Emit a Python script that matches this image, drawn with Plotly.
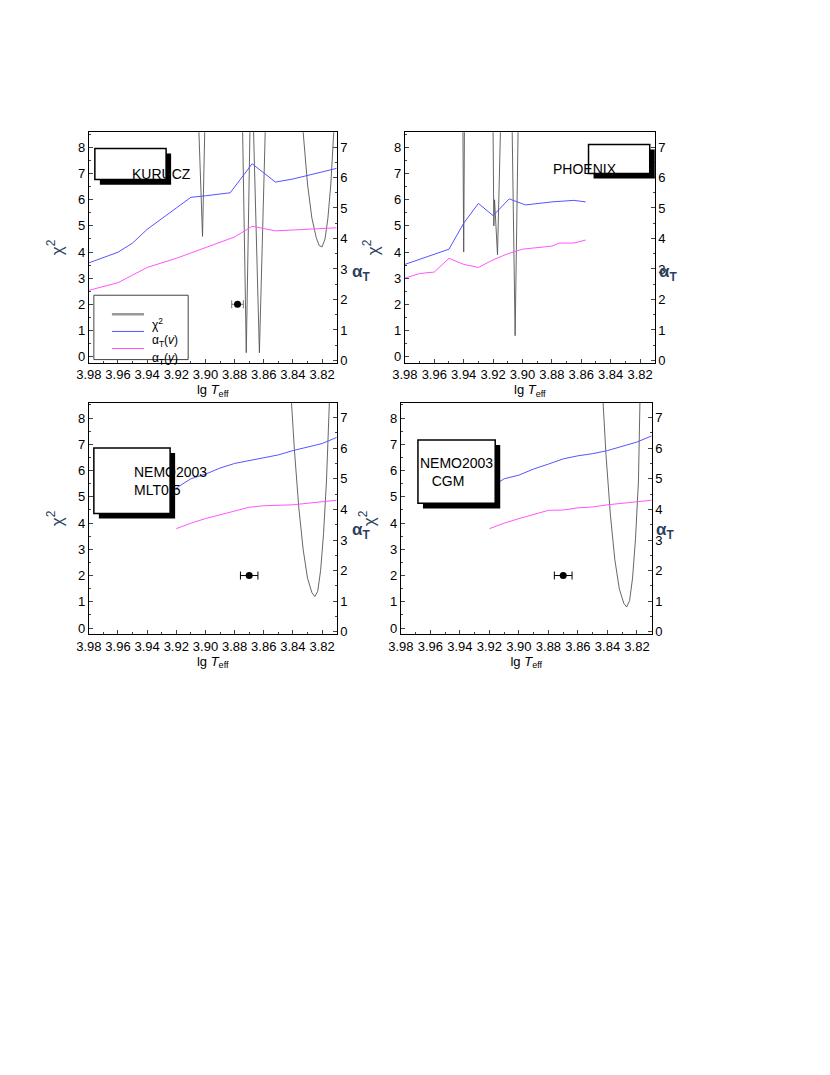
import plotly.graph_objects as go

W, H = 830, 1075

# panel labels
labels = ["KURUCZ", "PHOENIX", "NEMO2003<br>MLT0.5", "NEMO2003<br>   CGM"]

# alpha_T(v) (blue) per panel, read on right axis
blue_x = [
    [3.98, 3.96, 3.95, 3.94, 3.92, 3.91, 3.90, 3.883, 3.868, 3.852, 3.84, 3.81],
    [3.98, 3.96, 3.95, 3.94, 3.93, 3.92, 3.909, 3.898, 3.88, 3.865, 3.857],
    [3.92, 3.91, 3.90, 3.89, 3.88, 3.87, 3.86, 3.85, 3.84, 3.82, 3.81],
    [3.92, 3.91, 3.90, 3.89, 3.88, 3.87, 3.86, 3.85, 3.84, 3.82, 3.81],
]
blue_y = [
    [3.2, 3.55, 3.85, 4.3, 5.0, 5.35, 5.4, 5.5, 6.45, 5.85, 5.95, 6.3],
    [3.15, 3.5, 3.65, 4.5, 5.15, 4.75, 5.3, 5.1, 5.2, 5.25, 5.2],
    [4.7, 5.0, 5.15, 5.35, 5.5, 5.6, 5.68, 5.78, 5.92, 6.15, 6.35],
    [4.7, 5.0, 5.12, 5.32, 5.48, 5.65, 5.75, 5.82, 5.92, 6.2, 6.4],
]
# alpha_T(y) (magenta)
pink_x = [
    [3.98, 3.96, 3.95, 3.94, 3.92, 3.90, 3.88, 3.868, 3.852, 3.81],
    [3.98, 3.97, 3.96, 3.95, 3.94, 3.93, 3.92, 3.91, 3.90, 3.88, 3.875, 3.865, 3.857],
    [3.92, 3.91, 3.90, 3.89, 3.88, 3.87, 3.86, 3.84, 3.81],
    [3.92, 3.91, 3.90, 3.89, 3.88, 3.87, 3.86, 3.85, 3.84, 3.82, 3.81],
]
pink_y = [
    [2.3, 2.55, 2.8, 3.05, 3.35, 3.7, 4.05, 4.4, 4.25, 4.35],
    [2.7, 2.85, 2.9, 3.35, 3.15, 3.05, 3.3, 3.5, 3.65, 3.75, 3.85, 3.85, 3.95],
    [3.37, 3.55, 3.7, 3.82, 3.95, 4.07, 4.12, 4.15, 4.3],
    [3.37, 3.55, 3.7, 3.83, 3.97, 3.98, 4.05, 4.08, 4.15, 4.25, 4.3],
]
# chi^2 curves (left axis), None separates branches
chi_x = [
    [3.9045, 3.902, 3.9005, None, 3.8745, 3.872, 3.8695, None, 3.867, 3.863, 3.859, None,
     3.833, 3.830, 3.827, 3.824, 3.822, 3.820, 3.818, 3.816, 3.814, 3.812],
    [3.9405, 3.940, 3.9395, None, 3.920, 3.9195, 3.919, 3.917, 3.915, None, 3.907, 3.905, 3.903],
    [3.841, 3.839, 3.836, 3.833, 3.830, 3.827, 3.825, 3.823, 3.821, 3.819, 3.817, 3.815],
    [3.843, 3.841, 3.838, 3.835, 3.832, 3.829, 3.827, 3.825, 3.823, 3.821, 3.819, 3.818],
]
chi_y = [
    [8.6, 4.6, 8.6, None, 8.6, 0.15, 8.6, None, 8.6, 0.15, 8.6, None,
     8.6, 6.6, 5.3, 4.55, 4.25, 4.2, 4.5, 5.3, 6.6, 8.6],
    [8.6, 4.0, 8.6, None, 8.6, 5.0, 6.0, 3.9, 8.6, None, 8.6, 0.8, 8.6],
    [8.6, 6.8, 4.6, 3.0, 1.9, 1.35, 1.2, 1.4, 2.2, 3.6, 5.6, 8.6],
    [8.6, 6.6, 4.3, 2.6, 1.5, 0.95, 0.8, 1.05, 1.9, 3.4, 5.6, 8.6],
]
# measured point with x error
pt_x = [3.878, None, 3.870, 3.870]
pt_err = [0.004, None, 0.006, 0.006]
pt_y = 2

# panel frames (display pixels): left, right, top, bottom
boxes = [(87, 334, 131, 360), (402, 651, 131, 360), (87, 334, 400, 630), (398, 648, 400, 630)]
# label boxes (display pixels): left, right, top, bottom
lboxes = [(93, 164, 147, 178), (585, 646, 143, 172), (92, 168, 445, 510), (415, 492, 437, 500)]


def px(d):
    return ((d - 19.4) / 0.981) / W


def py(d):
    return 1 - ((d - 7.3) / 0.99) / H


fig = go.Figure()
fam = "Liberation Sans, Arial"
font = dict(family=fam, size=13, color="black")

for i, (l, r, t, b) in enumerate(boxes):
    n = i + 1
    xa = "x" if n == 1 else f"x{n}"
    ya_l = f"y{2*n-1}" if n > 1 else "y"
    ya_r = f"y{2*n}"
    fig.add_trace(go.Scatter(x=chi_x[i], y=chi_y[i], mode="lines", line=dict(color="#555", width=0.9),
                             xaxis=xa, yaxis=ya_l, connectgaps=False))
    fig.add_trace(go.Scatter(x=blue_x[i], y=blue_y[i], mode="lines", line=dict(color="#5555ff", width=1),
                             xaxis=xa, yaxis=ya_r))
    fig.add_trace(go.Scatter(x=pink_x[i], y=pink_y[i], mode="lines", line=dict(color="#ff55ff", width=1),
                             xaxis=xa, yaxis=ya_r))
    if pt_x[i] is not None:
        fig.add_trace(go.Scatter(x=[pt_x[i]], y=[pt_y], mode="markers", marker=dict(color="black", size=7),
                                 error_x=dict(type="constant", value=pt_err[i], color="black" if i else "#777",
                                              thickness=1, width=4),
                                 xaxis=xa, yaxis=ya_l))
    ax = dict(domain=[px(l), px(r)], range=[3.98, 3.81], anchor=ya_l,
              tickvals=[3.98 - 0.02 * k for k in range(9)],
              ticktext=[f"{3.98 - 0.02 * k:.2f}" for k in range(9)], ticks="inside", ticklen=4,
              showline=True, linecolor="black", mirror=True, showgrid=False, zeroline=False,
              tickfont=font, minor=dict(ticks="inside", ticklen=2, dtick=0.01),
              title=dict(text="lg <i>T</i><sub>eff</sub>", font=font, standoff=2))
    fig.update_layout(**{("xaxis" if n == 1 else f"xaxis{n}"): ax})
    yl = dict(domain=[py(b), py(t)], range=[-0.23, 8.58], anchor=xa, tickvals=list(range(9)),
              ticks="inside", ticklen=4, showline=True, linecolor="black", showgrid=False, zeroline=False,
              tickfont=font, minor=dict(ticks="inside", ticklen=2, dtick=0.5),
              title=dict(text="χ<sup>2</sup>", font=dict(family=fam, size=17), standoff=10))
    yr = dict(domain=[py(b), py(t)], range=[-0.07, 7.48], anchor=xa, overlaying=ya_l, side="right",
              tickvals=list(range(8)), ticks="inside", ticklen=4, showline=True, linecolor="black",
              showgrid=False, zeroline=False, tickfont=font, minor=dict(ticks="inside", ticklen=2, dtick=0.5))
    fig.update_layout(**{("yaxis" if n == 1 else f"yaxis{2*n-1}"): yl, f"yaxis{2*n}": yr})
    fig.add_annotation(x=px(r + 24), y=py((t + b) / 2 + 12), xref="paper", yref="paper", showarrow=False,
                       text="<b>α<sub>T</sub></b>", font=dict(family=fam, size=17))
    # label box with shadow
    x0, x1, y0, y1 = lboxes[i]
    fig.add_shape(type="rect", xref="paper", yref="paper", x0=px(x0 + 5), x1=px(x1 + 5),
                  y0=py(y0 + 5), y1=py(y1 + 5), fillcolor="black", line=dict(width=0))
    fig.add_shape(type="rect", xref="paper", yref="paper", x0=px(x0), x1=px(x1), y0=py(y0), y1=py(y1),
                  fillcolor="white", line=dict(color="black", width=1.5))
    fig.add_annotation(x=px((x0 + x1) / 2), y=py((y0 + y1) / 2), xref="paper", yref="paper",
                       showarrow=False, text=labels[i], align="left",
                       font=dict(family=fam, size=14, color="black"))

# legend box in first panel
fig.add_shape(type="rect", xref="paper", yref="paper", x0=px(92), x1=px(186), y0=py(293), y1=py(357),
              fillcolor="white", line=dict(color="#444", width=1))
leg = [("χ<sup>2</sup>", "#999", 2.5), ("α<sub>T</sub>(<i>v</i>)", "#5555ff", 1),
       ("α<sub>T</sub>(<i>y</i>)", "#ff55ff", 1)]
for k, (txt, c, w) in enumerate(leg):
    yy = 312 + k * 17
    fig.add_shape(type="line", xref="paper", yref="paper", x0=px(110), x1=px(142), y0=py(yy), y1=py(yy),
                  line=dict(color=c, width=w))
    fig.add_annotation(x=px(148), y=py(yy), xref="paper", yref="paper", showarrow=False, xanchor="left",
                       text=txt, font=dict(family=fam, size=12, color="black"))

fig.update_layout(width=W, height=H, margin=dict(l=0, r=0, t=0, b=0), plot_bgcolor="white",
                  paper_bgcolor="white", showlegend=False)
fig.write_html("out.html")
